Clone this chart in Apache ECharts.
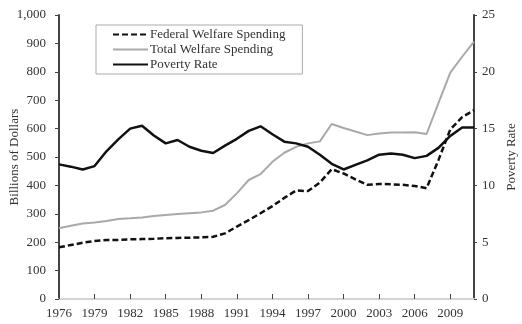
<!DOCTYPE html>
<html>
<head>
<meta charset="utf-8">
<script src="https://cdn.jsdelivr.net/npm/echarts@6/dist/echarts.min.js"></script>
<style>
  html, body { margin: 0; padding: 0; background: #fff; }
  #chart { width: 522px; height: 324px; }
</style>
</head>
<body>
<div id="chart"></div>
<script>
// Years on the horizontal axis
const years = [];
for (let y = 1976; y <= 2011; y++) years.push(String(y));

// Federal welfare spending, billions of dollars
const federalSpending = [182, 190, 198, 204, 208, 208, 210, 211, 212, 214,
  215, 216, 217, 219, 231, 255, 278, 302, 327, 356,
  382, 380, 410, 457, 442, 421, 402, 405, 404, 402,
  398, 390, 489, 597, 640, 665];

// Total welfare spending, billions of dollars
const totalSpending = [249, 258, 266, 269, 275, 282, 284, 287, 292, 296,
  299, 302, 305, 311, 331, 372, 419, 440, 483, 515,
  536, 548, 555, 616, 602, 590, 577, 583, 586, 586,
  587, 581, 690, 797, 853, 906];

// Poverty rate, percent
const povertyRate = [11.85, 11.65, 11.4, 11.7, 13.0, 14.05, 15.0, 15.25, 14.4, 13.7,
  14.0, 13.4, 13.05, 12.85, 13.5, 14.1, 14.8, 15.2, 14.5, 13.85,
  13.7, 13.4, 12.7, 11.9, 11.4, 11.8, 12.2, 12.7, 12.8, 12.7,
  12.4, 12.6, 13.3, 14.35, 15.1, 15.1];

const FONT = 'Liberation Serif';
const TEXT = '#333';
const AXIS = '#444';

const chart = echarts.init(document.getElementById('chart'));
chart.setOption({
  animation: false,
  backgroundColor: '#fff',
  textStyle: { fontFamily: FONT },
  grid: { left: 59, right: 48, top: 15, bottom: 25, containLabel: false, outerBoundsMode: 'none' },
  legend: {
    orient: 'vertical',
    left: 96,
    top: 25,
    padding: [3, 17, 3, 16],
    itemGap: 2,
    itemWidth: 35,
    itemHeight: 12,
    borderColor: '#aaa',
    borderWidth: 1,
    backgroundColor: '#fff',
    itemStyle: { opacity: 0, borderWidth: 0 },
    textStyle: { fontFamily: FONT, fontSize: 13, color: TEXT, padding: [0, 0, 0, -3] },
    data: ['Federal Welfare Spending', 'Total Welfare Spending', 'Poverty Rate']
  },
  xAxis: [{
    type: 'category',
    data: years,
    boundaryGap: false,
    axisLine: { lineStyle: { color: AXIS, width: 2 } },
    axisTick: { interval: 2, inside: true, length: 5, lineStyle: { color: AXIS, width: 1 } },
    axisLabel: { interval: 2, fontFamily: FONT, fontSize: 13, color: TEXT, margin: 8 },
    splitLine: { show: false }
  }, {
    type: 'category',
    data: years,
    position: 'top',
    boundaryGap: false,
    axisLine: { lineStyle: { color: '#d4d4d4', width: 2 } },
    axisTick: { show: false },
    axisLabel: { show: false }
  }],
  yAxis: [{
    type: 'value',
    min: 0, max: 1000, interval: 100,
    name: 'Billions of Dollars',
    nameLocation: 'middle',
    nameGap: 38,
    nameRotate: 90,
    nameMoveOverlap: false,
    nameTextStyle: { fontFamily: FONT, fontSize: 13, color: TEXT },
    axisLine: { show: true, lineStyle: { color: AXIS, width: 2 } },
    axisTick: { show: true, length: 4, lineStyle: { color: AXIS, width: 1 } },
    axisLabel: {
      fontFamily: FONT, fontSize: 13, color: TEXT, margin: 13,
      formatter: v => v.toLocaleString('en-US')
    },
    splitLine: { show: false }
  }, {
    type: 'value',
    min: 0, max: 25, interval: 5,
    name: 'Poverty Rate',
    nameLocation: 'middle',
    nameGap: 31,
    nameRotate: 90,
    nameMoveOverlap: false,
    nameTextStyle: { fontFamily: FONT, fontSize: 13, color: TEXT },
    axisLine: { show: true, lineStyle: { color: AXIS, width: 2 } },
    axisTick: { show: true, length: 3, lineStyle: { color: AXIS, width: 1 } },
    axisLabel: { fontFamily: FONT, fontSize: 13, color: TEXT, margin: 8 },
    splitLine: { show: false }
  }],
  series: [{
    name: 'Federal Welfare Spending',
    type: 'line',
    data: federalSpending,
    yAxisIndex: 0,
    symbol: 'none',
    color: '#111',
    lineStyle: { color: '#111', width: 2.5, type: [6, 3] },
    z: 3
  }, {
    name: 'Total Welfare Spending',
    type: 'line',
    data: totalSpending,
    yAxisIndex: 0,
    symbol: 'none',
    color: '#a9a9a9',
    lineStyle: { color: '#a9a9a9', width: 2 },
    z: 2
  }, {
    name: 'Poverty Rate',
    type: 'line',
    data: povertyRate,
    yAxisIndex: 1,
    symbol: 'none',
    color: '#111',
    lineStyle: { color: '#111', width: 2.5 },
    z: 4
  }]
});
</script>
</body>
</html>
